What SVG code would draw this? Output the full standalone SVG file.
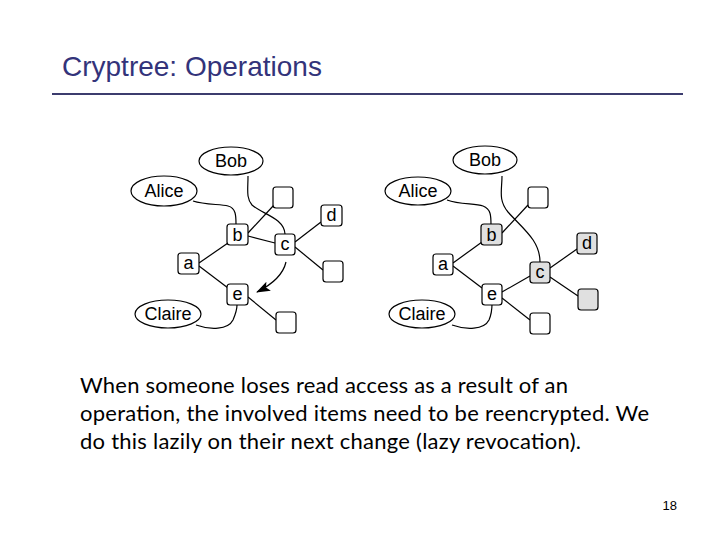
<svg xmlns="http://www.w3.org/2000/svg" width="720" height="540" viewBox="0 0 720 540">
<style>
.title{font-family:"Liberation Sans",Arial,sans-serif;font-size:28px;fill:#33337a}
.body{font-family:Lato,"Open Sans",sans-serif;font-size:22px;fill:#000}
.lbl{font-family:"Liberation Sans",Arial,sans-serif;font-size:18px;fill:#000;text-anchor:middle}
.ell{fill:#fff;stroke:#000;stroke-width:1.2}
.box{fill:#fff;stroke:#000;stroke-width:1.2}
.gbox{fill:#e0e0e0;stroke:#000;stroke-width:1.2}
.edge{fill:none;stroke:#000;stroke-width:1.2}
</style>
<defs>
<marker id="ah" markerWidth="14" markerHeight="10" refX="13" refY="5" orient="auto" markerUnits="userSpaceOnUse">
<path d="M0,0 L14,5 L0,10 L3,5 Z" fill="#000"/>
</marker>
</defs>
<rect width="720" height="540" fill="#fff"/>
<text class="title" x="62" y="76">Cryptree: Operations</text>
<line x1="52" y1="94" x2="683" y2="94" stroke="#3c3c6e" stroke-width="2"/>

<g id="connectors">
<!-- left diagram -->
<path class="edge" d="M248,176 C248,190 246,198 252,205 C262,214 284,218 285,234"/>
<path class="edge" d="M193,201 C205,205 220,204 228,206 C236,208 236,216 236,224"/>
<line class="edge" x1="248" y1="233" x2="274" y2="205"/>
<line class="edge" x1="248" y1="236" x2="275" y2="243"/>
<line class="edge" x1="295" y1="242" x2="321" y2="222"/>
<line class="edge" x1="295" y1="247" x2="323" y2="270"/>
<line class="edge" x1="199" y1="263" x2="228" y2="243"/>
<line class="edge" x1="199" y1="266" x2="228" y2="288"/>
<line class="edge" x1="248" y1="297" x2="276" y2="320"/>
<path class="edge" d="M196,325 C210,330 228,330 233,320 C236,313 237,310 237,305"/>
<path class="edge" d="M286,262 C283,275 273,284 257,292" marker-end="url(#ah)"/>
<!-- right diagram -->
<path class="edge" d="M502,176 C502,190 498,200 508,212 C522,228 540,240 540,262"/>
<path class="edge" d="M447,200 C460,205 475,203 483,206 C491,209 491,216 491,225"/>
<line class="edge" x1="502" y1="233" x2="528" y2="205"/>
<line class="edge" x1="453" y1="263" x2="482" y2="242"/>
<line class="edge" x1="453" y1="266" x2="482" y2="288"/>
<line class="edge" x1="502" y1="292" x2="530" y2="276"/>
<line class="edge" x1="502" y1="298" x2="530" y2="320"/>
<line class="edge" x1="550" y1="268" x2="577" y2="249"/>
<line class="edge" x1="550" y1="277" x2="578" y2="296"/>
<path class="edge" d="M452,325 C466,330 484,330 489,320 C492,313 492,310 492,304"/>
</g>

<!-- left diagram nodes -->
<g id="L-bob"><ellipse class="ell" cx="231" cy="161" rx="32" ry="14"/><text class="lbl" x="231" y="167">Bob</text></g>
<g id="L-alice"><ellipse class="ell" cx="164" cy="191" rx="33" ry="15"/><text class="lbl" x="164" y="197">Alice</text></g>
<g id="L-claire"><ellipse class="ell" cx="168" cy="314" rx="33" ry="14"/><text class="lbl" x="168" y="320">Claire</text></g>
<g id="L-top"><rect class="box" x="273" y="187" width="20" height="21" rx="3"/></g>
<g id="L-b"><rect class="box" x="227" y="224" width="21" height="21" rx="3"/><text class="lbl" x="237.5" y="241">b</text></g>
<g id="L-c"><rect class="box" x="275" y="234" width="20" height="21" rx="3"/><text class="lbl" x="285" y="250">c</text></g>
<g id="L-d"><rect class="box" x="321" y="205" width="21" height="21" rx="3"/><text class="lbl" x="331.5" y="221">d</text></g>
<g id="L-a"><rect class="box" x="178" y="253" width="21" height="21" rx="3"/><text class="lbl" x="188.5" y="269">a</text></g>
<g id="L-mid"><rect class="box" x="323" y="261" width="20" height="21" rx="3"/></g>
<g id="L-e"><rect class="box" x="227" y="284" width="21" height="21" rx="3"/><text class="lbl" x="237.5" y="300">e</text></g>
<g id="L-bot"><rect class="box" x="276" y="312" width="20" height="21" rx="3"/></g>

<!-- right diagram nodes -->
<g id="R-bob"><ellipse class="ell" cx="485" cy="160" rx="32" ry="14"/><text class="lbl" x="485" y="166">Bob</text></g>
<g id="R-alice"><ellipse class="ell" cx="418" cy="191" rx="33" ry="14"/><text class="lbl" x="418" y="197">Alice</text></g>
<g id="R-claire"><ellipse class="ell" cx="422" cy="314" rx="33" ry="14"/><text class="lbl" x="422" y="320">Claire</text></g>
<g id="R-top"><rect class="box" x="528" y="187" width="20" height="21" rx="3"/></g>
<g id="R-b"><rect class="gbox" x="481" y="224" width="21" height="21" rx="3"/><text class="lbl" x="491.5" y="241">b</text></g>
<g id="R-a"><rect class="box" x="433" y="254" width="20" height="21" rx="3"/><text class="lbl" x="443" y="270">a</text></g>
<g id="R-d"><rect class="gbox" x="577" y="233" width="20" height="21" rx="3"/><text class="lbl" x="587" y="249">d</text></g>
<g id="R-c"><rect class="gbox" x="530" y="262" width="20" height="21" rx="3"/><text class="lbl" x="540" y="278">c</text></g>
<g id="R-e"><rect class="box" x="482" y="284" width="20" height="21" rx="3"/><text class="lbl" x="492" y="300">e</text></g>
<g id="R-gray"><rect class="gbox" x="578" y="289" width="20" height="21" rx="3"/></g>
<g id="R-bot"><rect class="box" x="530" y="313" width="20" height="21" rx="3"/></g>

<text class="body" x="80" y="393" textLength="488" lengthAdjust="spacing">When someone loses read access as a result of an</text>
<text class="body" x="80" y="421" textLength="569" lengthAdjust="spacing">operation, the involved items need to be reencrypted. We</text>
<text class="body" x="80" y="449" textLength="501" lengthAdjust="spacing">do this lazily on their next change (lazy revocation).</text>
<text x="677" y="510" font-family="Liberation Sans,Arial,sans-serif" font-size="13" text-anchor="end">18</text>
</svg>
